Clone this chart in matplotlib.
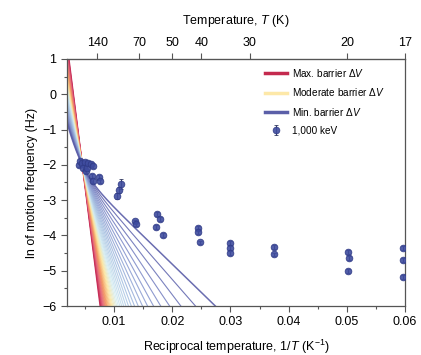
import numpy as np
import matplotlib
matplotlib.use("Agg")
import matplotlib.pyplot as plt
from matplotlib.colors import LinearSegmentedColormap
from matplotlib.lines import Line2D

plt.rcParams['font.family'] = ['Liberation Sans', 'DejaVu Sans']
plt.rcParams['mathtext.fontset'] = 'custom'
plt.rcParams['mathtext.rm'] = 'Liberation Sans'
plt.rcParams['mathtext.it'] = 'Liberation Sans:italic'

# ---- data ----
x_data = [0.0040, 0.0042, 0.0045, 0.0047, 0.0050, 0.0052, 0.0054, 0.0055, 0.0060, 0.0064,
          0.0062, 0.0064, 0.0074, 0.0076, 0.0105, 0.0108, 0.0112, 0.0136, 0.0138,
          0.0174, 0.0179, 0.0172, 0.0184, 0.0244, 0.0245, 0.0248,
          0.0299, 0.0300, 0.0299, 0.0375, 0.0375, 0.0502, 0.0503, 0.0502,
          0.0597, 0.0597, 0.0597]
y_data = [-2.00, -1.89, -1.95, -2.09, -1.92, -2.17, -2.09, -1.95, -1.97, -2.03,
          -2.31, -2.46, -2.34, -2.46, -2.88, -2.71, -2.54, -3.60, -3.67,
          -3.39, -3.53, -3.76, -3.99, -3.79, -3.90, -4.20,
          -4.21, -4.35, -4.50, -4.33, -4.54, -4.47, -4.64, -5.01,
          -4.35, -4.69, -5.18]
y_err = [0.05, 0.05, 0.05, 0.05, 0.05, 0.05, 0.05, 0.05, 0.05, 0.05,
         0.06, 0.06, 0.06, 0.06, 0.08, 0.08, 0.15, 0.05, 0.05,
         0.05, 0.05, 0.05, 0.05, 0.05, 0.05, 0.05,
         0.05, 0.05, 0.05, 0.05, 0.05, 0.05, 0.05, 0.05,
         0.05, 0.05, 0.05]

# model curve parameters: ln f = ln(exp(a - b x) + exp(c - d x))
max_barrier = [3.9, 1300.0]            # intercept, slope (single activated term)
min_barrier_steep = [0.26, 767.0]      # intercept, slope
min_barrier_tail = [-1.616, 160.0]     # intercept, slope
n_curves = 41

top_ticks = [140, 70, 50, 40, 30, 20, 1 / 0.06]
top_labels = ['140', '70', '50', '40', '30', '20', '17']

# ---- figure ----
fig = plt.figure(figsize=(4.21, 3.55), dpi=100)
ax = fig.add_axes([0.159, 0.138, 0.803, 0.696])

cmap = LinearSegmentedColormap.from_list('fan', [
    (0.0, '#c21f4e'), (0.18, '#e56a7e'), (0.33, '#f39a62'), (0.48, '#fde7a0'),
    (0.6, '#d3ecf2'), (0.75, '#a8c2e2'), (0.9, '#8390cb'), (1.0, '#5a5da8')])

x = np.linspace(0.0015, 0.06, 800)
y_red = max_barrier[0] - max_barrier[1] * x
y_blue = np.logaddexp(min_barrier_steep[0] - min_barrier_steep[1] * x,
                      min_barrier_tail[0] - min_barrier_tail[1] * x)
for t in np.linspace(0, 1, n_curves):
    y = (1 - t) * y_red + t * y_blue
    lw = 1.1 if t in (0.0, 1.0) else 0.8
    ax.plot(x, y, color=cmap(t), lw=lw, alpha=0.9, zorder=2)

eb = ax.errorbar(x_data, y_data, yerr=y_err, fmt='o', ms=4.8, color='#3f4c9f',
                 mec='#2f3a85', mew=0.6, ecolor='#222a55', elinewidth=0.8,
                 capsize=1.2, alpha=0.9, zorder=5)

ax.set_xlim(0.0019, 0.06)
ax.set_ylim(-6, 1)
ax.set_xticks([0.01, 0.02, 0.03, 0.04, 0.05, 0.06])
ax.set_xticklabels(['0.01', '0.02', '0.03', '0.04', '0.05', '0.06'])
ax.set_xticks(np.arange(0.005, 0.06, 0.01), minor=True)
ax.set_yticks(np.arange(-6, 2, 1))
ax.set_yticklabels(['\u22126', '\u22125', '\u22124', '\u22123', '\u22122', '\u22121', '0', '1'])
ax.set_yticks(np.arange(-5.5, 1, 1), minor=True)
ax.tick_params(which='major', length=4, width=0.8, labelsize=9, color='#555555')
ax.tick_params(which='minor', length=2.5, width=0.8, color='#555555')
for s in ax.spines.values():
    s.set_color('#555555')
    s.set_linewidth(0.9)

ax.set_xlabel('Reciprocal temperature, 1/$T$ (K$^{\u22121}$)', fontsize=9, labelpad=7)
ax.set_ylabel('ln of motion frequency (Hz)', fontsize=9, labelpad=3)

sec = ax.secondary_xaxis('top', functions=(lambda v: 1 / np.where(v == 0, 1e-9, v),
                                           lambda v: 1 / np.where(v == 0, 1e-9, v)))
sec.set_xticks(top_ticks)
sec.set_xticklabels(top_labels)
sec.xaxis.set_minor_locator(matplotlib.ticker.NullLocator())
sec.tick_params(length=4, width=0.8, labelsize=9, color='#555555')
sec.spines['top'].set_color('#555555')
sec.set_xlabel('Temperature, $T$ (K)', fontsize=9, labelpad=9)

handles = [Line2D([], [], color='#c42a4e', lw=2.5),
           Line2D([], [], color='#fde8a8', lw=2.5),
           Line2D([], [], color='#5b5fa8', lw=2.5),
           eb]
labels = ['Max. barrier $\\Delta V$', 'Moderate barrier $\\Delta V$',
          'Min. barrier $\\Delta V$', '1,000 keV']
ax.legend(handles, labels, loc='upper right', frameon=False, fontsize=7.2,
          handlelength=2.2, handletextpad=0.5, labelspacing=0.75,
          bbox_to_anchor=(0.965, 1.0), borderaxespad=0.4)

fig.savefig('out.png', dpi=100)
